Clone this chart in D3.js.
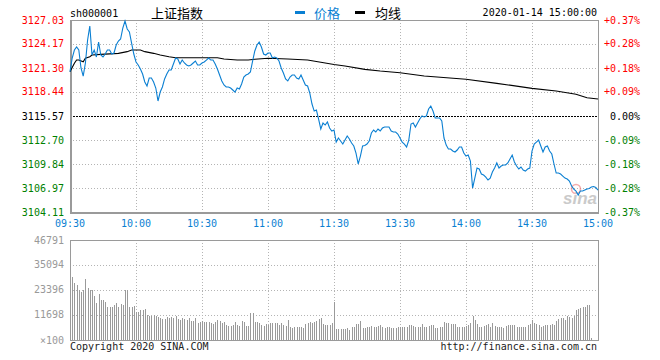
<!DOCTYPE html>
<html><head><meta charset="utf-8">
<script src="https://cdn.jsdelivr.net/npm/d3@7/dist/d3.min.js"></script>
<style>
html,body{margin:0;padding:0;background:#fff;}
svg{display:block;}
.mono{font-family:"DejaVu Sans Mono","Liberation Mono",monospace;font-size:10px;}
.cjk{font-family:"Noto Sans CJK SC",sans-serif;font-size:13px;}
</style></head>
<body>
<svg id="c" width="660" height="360"></svg>
<script>
const symbol = "sh000001";
const title = "上证指数";
const legendPrice = "价格";
const legendAvg = "均线";
const dateText = "2020-01-14 15:00:00";
const timeLabels = ["09:30","10:00","10:30","11:00","11:30","13:30","14:00","14:30","15:00"];
const timeIdx = [0,30,60,90,120,150,180,210,240];
const priceTicks = [3127.03,3124.17,3121.30,3118.44,3115.57,3112.70,3109.84,3106.97,3104.11];
const priceTickText = ["3127.03","3124.17","3121.30","3118.44","3115.57","3112.70","3109.84","3106.97","3104.11"];
const pctTickText = ["+0.37%","+0.28%","+0.18%","+0.09%","0.00%","-0.09%","-0.18%","-0.28%","-0.37%"];
const prevClose = 3115.57;
const volTicks = [46791,35094,23396,11698,0];
const volTickText = ["46791","35094","23396","11698","×100"];

const prices = [3120.86,3122.49,3123.45,3123.81,3123.45,3121.30,3120.34,3121.90,3124.64,3126.31,
3122.85,3123.45,3122.61,3124.40,3122.85,3122.61,3122.97,3123.45,3123.45,3122.97,
3123.09,3124.04,3124.52,3124.76,3126.07,3126.91,3125.96,3125.60,3124.28,3122.97,
3122.02,3121.66,3121.18,3120.58,3119.63,3119.15,3120.10,3120.10,3119.63,3118.91,
3117.36,3118.43,3119.03,3119.99,3120.58,3121.06,3121.06,3121.78,3122.49,3122.37,
3121.78,3122.25,3121.90,3121.66,3121.54,3121.66,3121.90,3122.13,3121.66,3121.66,
3121.90,3122.02,3122.25,3122.49,3122.25,3122.25,3121.78,3121.18,3120.46,3119.75,
3119.27,3119.03,3119.03,3118.91,3118.67,3118.43,3118.91,3118.79,3119.39,3120.22,
3120.46,3120.58,3120.82,3122.13,3123.33,3124.04,3124.40,3123.81,3122.97,3122.85,
3123.09,3123.09,3122.49,3122.61,3122.49,3122.13,3121.30,3120.70,3119.99,3119.75,
3120.22,3120.46,3120.46,3120.10,3119.99,3120.46,3119.87,3119.27,3119.15,3118.31,
3117.00,3116.16,3116.28,3115.21,3114.02,3114.73,3114.49,3114.85,3114.13,3113.78,
3113.90,
3112.46,3112.94,3112.58,3112.22,3112.70,3113.18,3112.82,3112.34,3111.99,3111.15,
3109.84,3110.79,3111.99,3112.05,3112.22,3112.58,3113.54,3113.90,3113.66,3114.02,
3113.78,3114.13,3114.25,3114.25,3114.25,3113.78,3113.66,3113.66,3113.42,3112.94,
3112.46,3112.22,3111.87,3112.70,3114.61,3114.73,3114.25,3114.73,3115.21,3115.57,
3115.45,3115.57,3116.40,3116.76,3116.16,3115.33,3115.33,3115.33,3114.97,3112.94,
3112.10,3111.63,3111.63,3111.39,3111.27,3111.51,3111.87,3111.87,3111.15,3110.79,
3110.91,3110.19,3106.97,3108.16,3109.36,3109.24,3108.64,3108.52,3108.28,3107.93,
3108.16,3108.88,3109.36,3109.96,3109.36,3109.60,3109.72,3109.72,3109.96,3110.43,
3110.91,3110.08,3109.60,3109.24,3109.48,3109.12,3109.00,3109.24,3109.36,3111.39,
3112.22,3112.46,3112.70,3111.99,3111.27,3111.87,3111.99,3111.39,3111.03,3109.84,
3108.76,3108.76,3108.64,3108.40,3108.16,3108.05,3107.81,3107.21,3106.85,3106.61,
3106.13,3106.61,3106.61,3106.73,3106.85,3106.91,3107.09,3107.15,3107.03,3106.73];

const avgMinute = [0,2,3,4,6,7,9,10,14,22,26,28,32,34,38,41,45,48,67,70,76,81,84,90,99,108,114,120,125,134,141,150,161,180,194,210,221,230,235,240];
const avgPrice = [3120.86,3121.86,3122.25,3122.25,3122.05,3122.46,3122.65,3122.85,3122.93,3123.05,3123.25,3123.45,3123.45,3123.25,3123.05,3122.85,3122.65,3122.53,3122.53,3122.37,3122.25,3122.25,3122.34,3122.46,3122.37,3122.25,3121.98,3121.72,3121.54,3121.14,3120.94,3120.74,3120.34,3119.95,3119.47,3118.87,3118.55,3118.16,3117.75,3117.60];

const volumes = [46791,29620,26530,25740,23400,22600,23400,28400,24190,23400,
23400,20590,17450,21520,18720,18720,17920,15580,15300,15580,
16380,17450,15300,16840,16380,23400,23400,15300,15300,15910,
13240,13240,14040,14040,14360,11700,11230,11230,11700,11230,
10620,10150,9690,9690,10900,10150,10900,10150,11370,9690,
9360,10150,9690,9360,10150,9030,9030,10150,8090,8560,
8890,8560,8560,8280,7810,7490,8560,9360,9030,8090,
8560,7020,6550,6690,7020,8560,7020,6550,9030,8560,
6550,6550,12490,12770,8560,8560,8090,7020,6550,7490,
7020,7810,8090,7810,8090,7020,8090,7020,6550,9360,
6220,5760,5940,5940,5940,5940,5470,7490,8090,8560,
7810,8560,9030,9690,10150,7490,7020,7020,7020,7810,
17920,
5010,5010,5010,5010,5010,5470,4680,5940,6220,7350,
7350,8890,5760,5760,6220,6220,6550,6220,6220,6550,
7020,6220,5470,5940,5940,5760,5470,5470,6220,5940,
5940,5940,5940,7020,7020,6550,6220,5940,5940,7490,
6220,6220,6690,7020,7020,5760,5760,6220,5940,8420,
7810,7810,7350,7350,7350,6220,6220,5940,6220,6550,
7020,7810,11230,9360,7350,6220,6220,6550,7020,7350,
6220,8090,6550,6220,5940,6220,5760,6550,7020,7020,
7020,7020,6220,6220,6220,6220,6220,7020,7350,9360,
7810,7490,7020,5940,6550,7020,7020,7020,7490,7020,
8890,9690,10150,10150,9360,11230,10620,10150,11230,14040,
14360,14830,15300,15580,16380,16380,800,0,0,0];

const svg = d3.select("#c");
const L = 70, R = 598, PT = 20, PB = 212, VT = 240, VB = 340;
const x = d3.scaleLinear().domain([0,240]).range([L,R]);
const y = d3.scaleLinear().domain([3104.11,3127.03]).range([PB,PT]);
const yv = d3.scaleLinear().domain([0,46791]).range([VB,VT]);
const gridCol = "#b4b4b4", borderCol = "#9a9a9a";
const red = "#ff0000", green = "#008000", blue = "#0a7fd2";

// price panel grid
const gP = svg.append("g").attr("shape-rendering","crispEdges");
priceTicks.forEach((t,i)=>{
  if(i===0||i===priceTicks.length-1) return;
  const yy = Math.round(y(t))+0.5;
  gP.append("line").attr("x1",L).attr("x2",R).attr("y1",yy).attr("y2",yy)
    .attr("stroke", t===prevClose? "#000":gridCol)
    .attr("stroke-dasharray", t===prevClose? "2,1":"1,2");
});
timeIdx.forEach((t,i)=>{
  if(i===0||i===timeIdx.length-1) return;
  const xx = Math.round(x(t))+0.5;
  gP.append("line").attr("x1",xx).attr("x2",xx).attr("y1",PT).attr("y2",PB).attr("stroke",gridCol).attr("stroke-dasharray","1,2");
  svg.append("line").attr("shape-rendering","crispEdges").attr("x1",xx).attr("x2",xx).attr("y1",VT).attr("y2",VB).attr("stroke",gridCol).attr("stroke-dasharray","1,2");
});
volTicks.forEach((t,i)=>{
  if(i===0||i===volTicks.length-1) return;
  const yy = Math.round(yv(t))+0.5;
  svg.append("line").attr("shape-rendering","crispEdges").attr("x1",L).attr("x2",R).attr("y1",yy).attr("y2",yy).attr("stroke",gridCol).attr("stroke-dasharray","1,2");
});

// watermark
const wm = svg.append("g").attr("opacity",0.6);
wm.append("circle").attr("cx",576).attr("cy",189).attr("r",4.5).attr("fill","none").attr("stroke","#f07878").attr("stroke-width",1.6);
wm.append("text").attr("x",563).attr("y",204).attr("font-family","Arial, Liberation Sans, sans-serif").attr("font-weight","bold").attr("font-style","italic").attr("font-size",17).attr("fill","#a8a8a8").text("sina");

// volume bars
svg.append("g").attr("shape-rendering","crispEdges").selectAll("line").data(volumes).join("line")
  .attr("x1",(d,i)=>Math.round(x(i))+0.5).attr("x2",(d,i)=>Math.round(x(i))+0.5)
  .attr("y1",yv(0)).attr("y2",d=>yv(d)).attr("stroke","#9a9a9a").attr("stroke-width",1);

// borders
[[PT,PB],[VT,VB]].forEach(([t,b])=>{
  svg.append("rect").attr("x",L+0.5).attr("y",t+0.5).attr("width",R-L).attr("height",b-t)
    .attr("fill","none").attr("stroke",borderCol).attr("shape-rendering","crispEdges");
});
svg.append("line").attr("x1",L+0.5).attr("x2",L+0.5).attr("y1",PT).attr("y2",PB+1).attr("stroke",borderCol).attr("stroke-width",2).attr("shape-rendering","crispEdges");
svg.append("line").attr("x1",L).attr("x2",R+1).attr("y1",PB+0.5).attr("y2",PB+0.5).attr("stroke",borderCol).attr("stroke-width",2).attr("shape-rendering","crispEdges");

// avg line
svg.append("path").datum(avgMinute.map((m,i)=>[m,avgPrice[i]]))
  .attr("d",d3.line().x(d=>x(d[0])).y(d=>y(d[1])))
  .attr("fill","none").attr("stroke","#000").attr("stroke-width",1.1);
// price line
svg.append("path").datum(prices)
  .attr("d",d3.line().x((d,i)=>x(i)).y(d=>y(d)))
  .attr("fill","none").attr("stroke",blue).attr("stroke-width",1.1);

// left price labels
svg.append("g").selectAll("text").data(priceTicks).join("text").attr("class","mono")
  .attr("x",64).attr("y",d=>y(d)+3.5).attr("text-anchor","end")
  .attr("fill",d=>d>prevClose?red:(d<prevClose?green:"#000"))
  .text((d,i)=>priceTickText[i]);
// right pct labels
svg.append("g").selectAll("text").data(priceTicks).join("text").attr("class","mono")
  .attr("x",640).attr("y",d=>y(d)+3.5).attr("text-anchor","end")
  .attr("fill",d=>d>prevClose?red:(d<prevClose?green:"#000"))
  .text((d,i)=>pctTickText[i]);
// time labels
svg.append("g").selectAll("text").data(timeIdx).join("text").attr("class","mono")
  .attr("x",d=>x(d)).attr("y",227).attr("text-anchor","middle").attr("fill",blue)
  .text((d,i)=>timeLabels[i]);
// volume labels
svg.append("g").selectAll("text").data(volTicks).join("text").attr("class","mono")
  .attr("x",64).attr("y",d=>yv(d)+3.5).attr("text-anchor","end").attr("fill","#999")
  .text((d,i)=>volTickText[i]);

// header
svg.append("text").attr("class","mono").attr("x",70).attr("y",16.5).attr("fill","#000").text(symbol);
svg.append("text").attr("class","cjk").attr("x",151).attr("y",17.5).attr("fill","#000").text(title);
svg.append("rect").attr("x",295).attr("y",11).attr("width",10).attr("height",3).attr("fill",blue);
svg.append("text").attr("class","cjk").attr("x",314).attr("y",17.5).attr("fill",blue).text(legendPrice);
svg.append("rect").attr("x",355).attr("y",11).attr("width",10).attr("height",3).attr("fill","#000");
svg.append("text").attr("class","cjk").attr("x",375).attr("y",17.5).attr("fill","#000").text(legendAvg);
svg.append("text").attr("class","mono").attr("x",597).attr("y",16).attr("text-anchor","end").attr("fill","#000").text(dateText);

// footer
svg.append("text").attr("class","mono").attr("x",70).attr("y",350).attr("fill","#222").text("Copyright 2020 SINA.COM");
svg.append("text").attr("class","mono").attr("x",597).attr("y",350).attr("text-anchor","end").attr("fill","#222").text("http://finance.sina.com.cn");
</script>
</body></html>
